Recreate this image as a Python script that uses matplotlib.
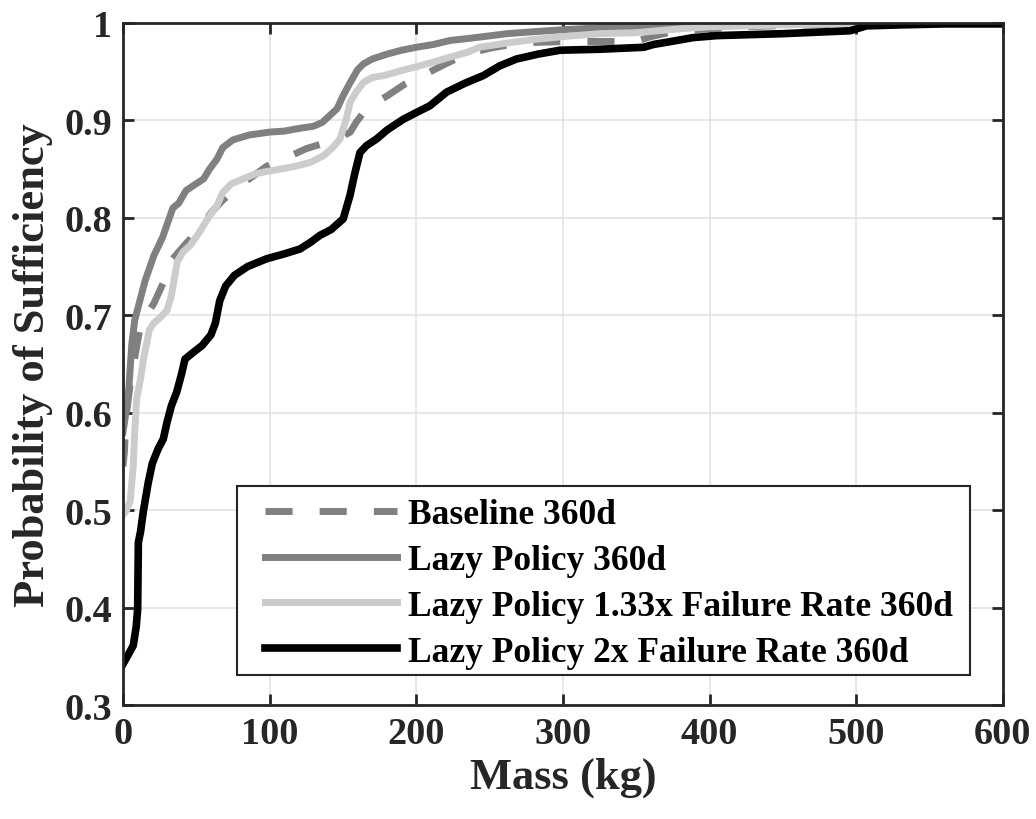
import matplotlib
matplotlib.use("Agg")
import matplotlib.pyplot as plt
from matplotlib.patches import Rectangle

# Mass (kg) vs probability of sufficiency
base_x = [0, 1, 2, 5, 9, 12, 16, 21, 28, 34, 42, 50, 60, 68, 77, 88, 98, 112, 125, 138, 150, 155, 159, 165, 172, 180, 192, 207, 220, 234, 250, 265, 280, 305, 350, 360, 372, 390, 420, 470, 520, 600]
base_y = [0.545, 0.56, 0.595, 0.63, 0.665, 0.69, 0.70, 0.712, 0.735, 0.758, 0.772, 0.785, 0.805, 0.818, 0.83, 0.842, 0.853, 0.862, 0.871, 0.877, 0.884, 0.888, 0.898, 0.91, 0.918, 0.925, 0.937, 0.948, 0.958, 0.968, 0.974, 0.978, 0.98, 0.981, 0.981, 0.986, 0.99, 0.993, 0.996, 0.998, 0.999, 1.0]

lazy_x = [0, 2, 4, 6, 8, 11, 15, 21, 27, 34, 38, 43, 50, 55, 59, 64, 68, 75, 86, 100, 110, 121, 130, 136, 141, 146, 150, 155, 160, 164, 170, 180, 190, 200, 212, 223, 235, 246, 262, 280, 300, 325, 350, 380, 400, 450, 500, 600]
lazy_y = [0.58, 0.6, 0.625, 0.67, 0.695, 0.712, 0.735, 0.761, 0.78, 0.81, 0.815, 0.828, 0.835, 0.84, 0.85, 0.86, 0.872, 0.88, 0.885, 0.888, 0.889, 0.892, 0.894, 0.898, 0.905, 0.912, 0.925, 0.939, 0.952, 0.958, 0.963, 0.968, 0.972, 0.975, 0.978, 0.982, 0.984, 0.986, 0.989, 0.991, 0.993, 0.995, 0.996, 0.998, 0.999, 1.0, 1.0, 1.0]

r133_x = [0, 2.5, 5, 7, 8, 9.3, 12, 14, 18, 21, 25, 30, 33, 37, 41, 46, 52, 59, 64, 68, 74, 82, 90, 96, 107, 118, 128, 137, 143, 148, 152, 155, 159, 164, 170, 178, 185, 192, 200, 212, 223, 235, 243, 260, 280, 300, 325, 350, 380, 400, 450, 520, 600]
r133_y = [0.495, 0.5, 0.51, 0.545, 0.58, 0.614, 0.635, 0.655, 0.685, 0.692, 0.697, 0.705, 0.72, 0.755, 0.765, 0.772, 0.785, 0.802, 0.812, 0.826, 0.835, 0.84, 0.845, 0.847, 0.85, 0.853, 0.857, 0.864, 0.872, 0.881, 0.9, 0.919, 0.929, 0.939, 0.944, 0.946, 0.949, 0.952, 0.955, 0.96, 0.965, 0.97, 0.975, 0.979, 0.983, 0.986, 0.989, 0.99, 0.994, 0.996, 0.998, 1.0, 1.0]

r2_x = [0, 3, 7, 9, 10, 10.5, 12, 13.8, 17.2, 20, 24, 27.5, 30, 33, 36.6, 40, 42.3, 48, 54, 60, 63, 66, 70, 76, 85, 98, 110, 120.7, 128, 134.3, 142, 150.2, 154.8, 158, 161.6, 166, 173, 180, 191, 200, 209.3, 220.7, 233, 245.7, 257, 268.4, 283, 298, 325, 355, 362, 370, 389, 405, 450, 496, 507, 530, 560, 600]
r2_y = [0.342, 0.35, 0.361, 0.38, 0.398, 0.467, 0.478, 0.498, 0.528, 0.548, 0.563, 0.573, 0.59, 0.607, 0.621, 0.64, 0.655, 0.662, 0.669, 0.68, 0.692, 0.715, 0.73, 0.741, 0.75, 0.758, 0.763, 0.768, 0.775, 0.782, 0.788, 0.799, 0.823, 0.845, 0.867, 0.874, 0.881, 0.89, 0.901, 0.908, 0.915, 0.929, 0.938, 0.946, 0.956, 0.963, 0.968, 0.972, 0.973, 0.975, 0.978, 0.98, 0.985, 0.987, 0.989, 0.992, 0.997, 0.998, 0.999, 0.999]

labels = ["Baseline 360d", "Lazy Policy 360d",
          "Lazy Policy 1.33x Failure Rate 360d", "Lazy Policy 2x Failure Rate 360d"]

plt.rcParams['font.family'] = ['Liberation Serif', 'DejaVu Serif']
plt.rcParams['font.weight'] = 'bold'

fig = plt.figure(figsize=(10.36, 8.2), dpi=100)
ax = fig.add_axes([0.1187, 0.139, 0.8493, 0.8318])

ax.plot(base_x, base_y, color='#808080', lw=5, ls=(0, (3.9, 3.9)), label=labels[0])
ax.plot(lazy_x, lazy_y, color='#808080', lw=5, label=labels[1])
ax.plot(r133_x, r133_y, color='#cccccc', lw=5, label=labels[2])
ax.plot(r2_x, r2_y, color='black', lw=5.5, label=labels[3])

ax.set_xlim(0, 600)
ax.set_ylim(0.3, 1)
ax.set_xticks(range(0, 601, 100))
ax.set_yticks([0.3, 0.4, 0.5, 0.6, 0.7, 0.8, 0.9, 1])
ax.set_yticklabels(['0.3', '0.4', '0.5', '0.6', '0.7', '0.8', '0.9', '1'])
ax.grid(True, color='#e3e3e3', lw=1.2)
ax.set_axisbelow(True)
for s in ax.spines.values():
    s.set_linewidth(2)
    s.set_color('#262626')
ax.tick_params(direction='in', length=8, width=2, top=True, right=True,
               labelsize=27.5, colors='#262626', pad=8)
for t in ax.get_xticklabels() + ax.get_yticklabels():
    t.set_fontweight('bold')

ax.set_xlabel('Mass (kg)', fontsize=32, fontweight='bold', color='#262626', labelpad=4)
ax.set_ylabel('Probability of Sufficiency', fontsize=32, fontweight='bold', color='#262626', labelpad=8)

# legend box drawn separately so the inner padding can be uneven, like the original
ax.add_patch(Rectangle((0.1295, 0.044), 0.833, 0.277, transform=ax.transAxes,
                       facecolor='white', edgecolor='#262626', lw=1.5, zorder=4))
leg = ax.legend(loc='upper left', bbox_to_anchor=(0.1614, 0.303),
                fontsize=25.5, frameon=False, handlelength=3.73, handletextpad=0.31,
                borderaxespad=0, labelspacing=0.36, borderpad=0)
leg.set_zorder(5)
for t in leg.get_texts():
    t.set_fontweight('bold')

fig.savefig('out.png', dpi=100)
